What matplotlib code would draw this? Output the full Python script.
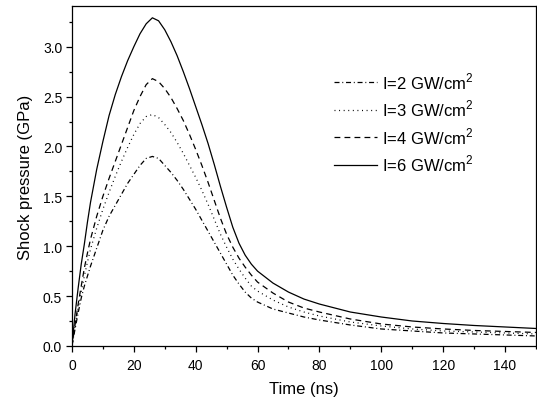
import matplotlib
matplotlib.use("Agg")
import matplotlib.pyplot as plt
from matplotlib.ticker import MultipleLocator

plt.rcParams['font.family'] = ['Liberation Sans', 'DejaVu Sans']
plt.rcParams['lines.scale_dashes'] = False
plt.rcParams['mathtext.fontset'] = 'custom'
plt.rcParams['mathtext.rm'] = 'Liberation Sans'

# time axis (ns), shared by all curves
t = [0, 1, 2, 3, 4, 5, 6, 8, 10, 12, 14, 16, 18, 20, 22, 24, 26, 28, 30, 32,
     34, 36, 38, 40, 42, 44, 46, 48, 50, 52, 54, 56, 58, 60, 65, 70, 75, 80,
     90, 100, 110, 120, 130, 140, 150]

# shock pressure (GPa)
p2 = [0, 0.17, 0.33, 0.48, 0.60, 0.70, 0.80, 0.98, 1.16, 1.30, 1.41, 1.52, 1.63,
      1.72, 1.81, 1.88, 1.90, 1.88, 1.81, 1.74, 1.66, 1.57, 1.47, 1.37, 1.26,
      1.15, 1.04, 0.93, 0.82, 0.71, 0.62, 0.54, 0.48, 0.44, 0.37, 0.33, 0.29,
      0.26, 0.21, 0.17, 0.15, 0.13, 0.12, 0.11, 0.10]
p3 = [0, 0.20, 0.38, 0.54, 0.70, 0.84, 0.97, 1.18, 1.37, 1.54, 1.70, 1.85, 1.99,
      2.12, 2.23, 2.30, 2.32, 2.29, 2.22, 2.14, 2.04, 1.93, 1.81, 1.69, 1.56,
      1.42, 1.27, 1.12, 0.99, 0.87, 0.77, 0.68, 0.60, 0.55, 0.46, 0.39, 0.34,
      0.30, 0.24, 0.20, 0.17, 0.15, 0.14, 0.13, 0.12]
p4 = [0, 0.21, 0.42, 0.60, 0.78, 0.93, 1.07, 1.30, 1.50, 1.68, 1.85, 2.02, 2.19,
      2.36, 2.50, 2.62, 2.68, 2.65, 2.58, 2.49, 2.38, 2.26, 2.12, 1.97, 1.81,
      1.64, 1.46, 1.28, 1.12, 0.99, 0.88, 0.79, 0.71, 0.64, 0.53, 0.44, 0.38,
      0.34, 0.27, 0.22, 0.19, 0.17, 0.155, 0.145, 0.135]
p6 = [0, 0.32, 0.58, 0.82, 1.02, 1.24, 1.44, 1.77, 2.05, 2.31, 2.52, 2.70, 2.86,
      3.00, 3.13, 3.23, 3.29, 3.26, 3.17, 3.05, 2.91, 2.75, 2.58, 2.40, 2.22,
      2.03, 1.82, 1.60, 1.39, 1.19, 1.03, 0.91, 0.82, 0.75, 0.63, 0.54, 0.47,
      0.42, 0.34, 0.29, 0.25, 0.225, 0.205, 0.19, 0.175]

labels = ['I=2 GW/cm$^2$', 'I=3 GW/cm$^2$', 'I=4 GW/cm$^2$', 'I=6 GW/cm$^2$']

fig = plt.figure(figsize=(5.37, 4.02), dpi=100)
ax = fig.add_axes([0.134, 0.137, 0.864, 0.846])

lw = 0.9
ax.plot(t, p2, color='black', lw=lw, dashes=(3.6, 2.0, 0.7, 2.0), label=labels[0])
ax.plot(t, p3, color='black', lw=lw, dashes=(0.7, 2.6), label=labels[1])
ax.plot(t, p4, color='black', lw=lw, dashes=(4.2, 3.0), label=labels[2])
ax.plot(t, p6, color='black', lw=lw, label=labels[3])

ax.set_xlim(0, 150)
ax.set_ylim(0, 3.41)
ax.xaxis.set_major_locator(MultipleLocator(20))
ax.xaxis.set_minor_locator(MultipleLocator(10))
ax.yaxis.set_major_locator(MultipleLocator(0.5))
ax.yaxis.set_minor_locator(MultipleLocator(0.25))
ax.yaxis.set_major_formatter(matplotlib.ticker.FormatStrFormatter('%.1f'))
ax.tick_params(which='major', direction='out', length=4, width=0.9, labelsize=10, pad=3)
ax.tick_params(axis='x', which='major', pad=5)
ax.tick_params(which='minor', direction='out', length=2.5, width=0.9)
for s in ax.spines.values():
    s.set_linewidth(0.9)

ax.set_xlabel('Time (ns)', fontsize=12, labelpad=6)
ax.set_ylabel('Shock pressure (GPa)', fontsize=12, labelpad=7)

ax.legend(loc='upper left', bbox_to_anchor=(0.565, 0.81), frameon=False,
          fontsize=12, handlelength=2.6, handletextpad=0.3, labelspacing=0.42,
          borderpad=0, borderaxespad=0)

fig.savefig('out.png', dpi=100)
